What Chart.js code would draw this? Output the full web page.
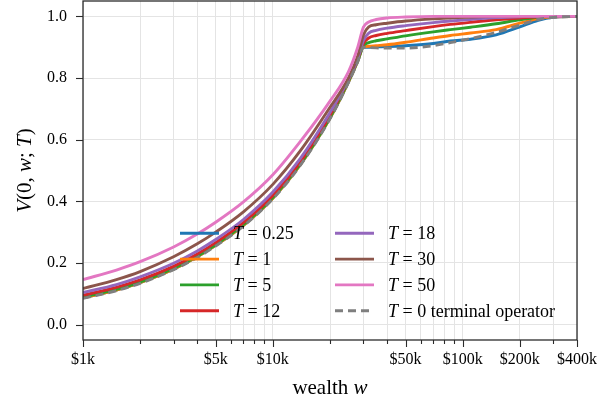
<!DOCTYPE html>
<html>
<head>
<meta charset="utf-8">
<script src="https://cdn.jsdelivr.net/npm/chart.js@4.4.0/dist/chart.umd.min.js"></script>
<style>
  html, body { margin: 0; padding: 0; background: #fff; }
  #wrap { width: 600px; height: 404px; }
</style>
</head>
<body>
<div id="wrap"><canvas id="valueChart" width="600" height="404"></canvas></div>
<script>
// wealth grid (dollars) shared by all curves
const wealth = [1000, 1500, 2000, 3000, 4000, 5000, 7000, 10000, 14000, 20000, 25000, 28000, 30000,
                32000, 35000, 40000, 50000, 70000, 86000, 110000, 150000, 200000, 250000, 300000, 400000];

// V(0, w; T), one array per horizon
const vT025 = [0.087, 0.112, 0.136, 0.180, 0.220, 0.257, 0.322, 0.410, 0.520, 0.670, 0.787, 0.855, 0.900,
               0.900, 0.901, 0.902, 0.905, 0.912, 0.920, 0.926, 0.940, 0.966, 0.987, 0.997, 1.000];
const vT1   = [0.087, 0.112, 0.136, 0.180, 0.220, 0.257, 0.322, 0.410, 0.520, 0.670, 0.787, 0.855, 0.901,
               0.903, 0.905, 0.908, 0.916, 0.930, 0.938, 0.946, 0.957, 0.978, 0.993, 0.999, 1.000];
const vT5   = [0.089, 0.114, 0.138, 0.182, 0.222, 0.259, 0.324, 0.412, 0.522, 0.672, 0.789, 0.857, 0.905,
               0.915, 0.921, 0.927, 0.937, 0.950, 0.957, 0.965, 0.976, 0.989, 0.997, 1.000, 1.000];
const vT12  = [0.095, 0.121, 0.145, 0.189, 0.229, 0.266, 0.331, 0.419, 0.529, 0.679, 0.795, 0.862, 0.912,
               0.930, 0.938, 0.945, 0.954, 0.967, 0.974, 0.981, 0.989, 0.995, 0.999, 1.000, 1.000];
const vT18  = [0.104, 0.130, 0.155, 0.199, 0.239, 0.276, 0.341, 0.430, 0.540, 0.688, 0.795, 0.862, 0.922,
               0.946, 0.955, 0.962, 0.970, 0.980, 0.985, 0.990, 0.996, 0.999, 1.000, 1.000, 1.000];
const vT30  = [0.117, 0.146, 0.172, 0.220, 0.262, 0.300, 0.366, 0.455, 0.565, 0.705, 0.800, 0.872, 0.940,
               0.966, 0.973, 0.978, 0.985, 0.992, 0.995, 0.998, 1.000, 1.000, 1.000, 1.000, 1.000];
const vT50  = [0.146, 0.177, 0.204, 0.252, 0.294, 0.332, 0.398, 0.486, 0.595, 0.725, 0.820, 0.900, 0.965,
               0.982, 0.990, 0.995, 0.998, 1.000, 1.000, 1.000, 1.000, 1.000, 1.000, 1.000, 1.000];
const vT0   = [0.085, 0.110, 0.134, 0.178, 0.218, 0.255, 0.320, 0.408, 0.518, 0.668, 0.785, 0.853, 0.900,
               0.899, 0.898, 0.897, 0.897, 0.905, 0.915, 0.928, 0.948, 0.972, 0.990, 0.997, 1.000];

const seriesValues = [vT025, vT1, vT5, vT12, vT18, vT30, vT50, vT0];
const seriesLabels = ['0.25', '1', '5', '12', '18', '30', '50', '0 terminal operator'];
const seriesColors = ['#1f77b4', '#ff7f0e', '#2ca02c', '#d62728', '#9467bd', '#8c564b', '#e377c2', '#7f7f7f'];

const xTickValues = [1000, 5000, 10000, 50000, 100000, 200000, 400000];
const xTickLabels = ['$1k', '$5k', '$10k', '$50k', '$100k', '$200k', '$400k'];
const yTickValues = [0, 0.2, 0.4, 0.6, 0.8, 1.0];

const SERIF = '"Liberation Serif", "Times New Roman", serif';

// every 1..9 x 10^k position between the axis limits (grid + minor ticks)
const logGrid = [];
for (let d = 1000; d <= 100000; d *= 10) {
    for (let m = 1; m <= 9; m++) {
        if (m * d <= 400000) logGrid.push(m * d);
    }
}

function drawRich(ctx, parts, x, y, size, align) {
    let total = 0;
    parts.forEach(p => {
        ctx.font = (p.i ? 'italic ' : '') + size + 'px ' + SERIF;
        p.w = ctx.measureText(p.t).width;
        total += p.w;
    });
    let cx = align === 'center' ? x - total / 2 : x;
    parts.forEach(p => {
        ctx.font = (p.i ? 'italic ' : '') + size + 'px ' + SERIF;
        ctx.fillText(p.t, cx, y);
        cx += p.w;
    });
}

const decorPlugin = {
    id: 'decor',
    afterDraw(chart) {
        const ctx = chart.ctx;
        const area = chart.chartArea;
        const xs = chart.scales.x;
        const ys = chart.scales.y;
        ctx.save();

        // frame
        ctx.strokeStyle = '#2b2b2b';
        ctx.lineWidth = 1.3;
        ctx.strokeRect(area.left, area.top, area.right - area.left, area.bottom - area.top);

        // x tick marks, long on labelled values
        ctx.lineWidth = 1.1;
        logGrid.forEach(v => {
            const px = Math.round(xs.getPixelForValue(v)) + 0.5;
            const len = xTickValues.includes(v) ? 7 : 4;
            ctx.beginPath();
            ctx.moveTo(px, area.bottom);
            ctx.lineTo(px, area.bottom + len);
            ctx.stroke();
        });
        // y tick marks
        yTickValues.forEach(v => {
            const py = Math.round(ys.getPixelForValue(v)) + 0.5;
            ctx.beginPath();
            ctx.moveTo(area.left - 7, py);
            ctx.lineTo(area.left, py);
            ctx.stroke();
        });

        // axis titles
        ctx.fillStyle = '#000';
        ctx.textBaseline = 'alphabetic';
        drawRich(ctx, [{t: 'wealth ', i: false}, {t: 'w', i: true}],
                 (area.left + area.right) / 2, 394, 21, 'center');
        ctx.save();
        ctx.translate(31, (area.top + area.bottom) / 2);
        ctx.rotate(-Math.PI / 2);
        drawRich(ctx, [{t: 'V', i: true}, {t: '(0, ', i: false}, {t: 'w', i: true},
                       {t: '; ', i: false}, {t: 'T', i: true}, {t: ')', i: false}],
                 0, 0, 21, 'center');
        ctx.restore();

        // legend: two columns of four, inside the axes
        const rowGap = 25.8;
        const firstRow = area.bottom - 106.7;
        chart.data.datasets.forEach((ds, i) => {
            const col = Math.floor(i / 4);
            const row = i % 4;
            const lx = area.left + 97 + col * 155;
            const ly = firstRow + row * rowGap;
            ctx.strokeStyle = ds.borderColor;
            ctx.lineWidth = 2.9;
            ctx.setLineDash(ds.borderDash || []);
            ctx.beginPath();
            ctx.moveTo(lx, ly);
            ctx.lineTo(lx + 39, ly);
            ctx.stroke();
            ctx.setLineDash([]);
            ctx.fillStyle = '#000';
            drawRich(ctx, [{t: 'T', i: true}, {t: ' = ' + seriesLabels[i], i: false}],
                     lx + 53, ly + 6, 18, 'left');
        });
        ctx.restore();
    }
};

const ctx = document.getElementById('valueChart').getContext('2d');
new Chart(ctx, {
    type: 'line',
    data: {
        datasets: seriesValues.map((vals, i) => ({
            label: 'T = ' + seriesLabels[i],
            data: wealth.map((w, j) => ({x: w, y: vals[j]})),
            borderColor: seriesColors[i],
            backgroundColor: seriesColors[i],
            borderWidth: 2.9,
            borderDash: i === 7 ? [8, 5] : [],
            pointRadius: 0,
            cubicInterpolationMode: 'monotone',
            fill: false,
            order: 8 - i
        }))
    },
    options: {
        responsive: false,
        animation: false,
        layout: { padding: { top: 1, right: 23, left: 0, bottom: 0 } },
        plugins: {
            legend: { display: false },
            tooltip: { enabled: false }
        },
        scales: {
            x: {
                type: 'logarithmic',
                min: 1000,
                max: 400000,
                afterBuildTicks: s => { s.ticks = logGrid.map(v => ({value: v})); },
                afterFit: s => {
                    s.height = 64;
                    s.paddingLeft = 0;
                    s.paddingRight = 0;
                },
                grid: { color: '#e4e4e4', lineWidth: 1, drawTicks: false },
                border: { display: false },
                ticks: {
                    autoSkip: false,
                    maxRotation: 0,
                    padding: 10,
                    color: '#000',
                    font: { family: SERIF, size: 16 },
                    callback: function(value) {
                        const k = xTickValues.indexOf(value);
                        return k >= 0 ? xTickLabels[k] : '';
                    }
                }
            },
            y: {
                min: -0.05,
                max: 1.05,
                afterBuildTicks: s => { s.ticks = yTickValues.map(v => ({value: v})); },
                afterFit: s => {
                    s.width = 83;
                    s.paddingTop = 0;
                    s.paddingBottom = 0;
                },
                grid: { color: '#e4e4e4', lineWidth: 1, drawTicks: false },
                border: { display: false },
                ticks: {
                    padding: 16,
                    color: '#000',
                    font: { family: SERIF, size: 16 },
                    callback: value => value.toFixed(1)
                }
            }
        }
    },
    plugins: [decorPlugin]
});
</script>
</body>
</html>
